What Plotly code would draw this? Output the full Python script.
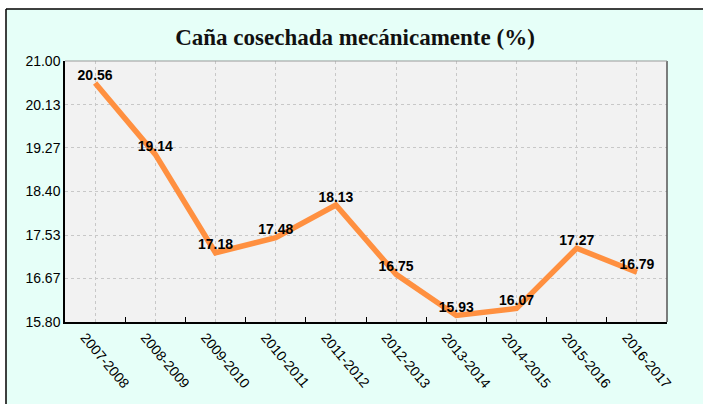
import plotly.graph_objects as go

categories = ["2007-2008", "2008-2009", "2009-2010", "2010-2011", "2011-2012",
              "2012-2013", "2013-2014", "2014-2015", "2015-2016", "2016-2017"]
values = [20.56, 19.14, 17.18, 17.48, 18.13, 16.75, 15.93, 16.07, 17.27, 16.79]
y_ticks = [15.80, 16.67, 17.53, 18.40, 19.27, 20.13, 21.00]
title_text = "Caña cosechada mecánicamente (%)"

W, H = 703, 404
ml, mr, mt, mb = 65, 36, 61, 82
pw, ph = W - ml - mr, H - mt - mb

def px_x(p):
    return (p - ml) / pw

def px_y(p):
    return (H - mb - p) / ph

fig = go.Figure()
fig.add_trace(go.Scatter(
    x=categories, y=values, mode="lines+text",
    line=dict(color="#FF9040", width=5.5),
    text=[f"<b>{v:.2f}</b>" for v in values], textposition="top center",
    textfont=dict(family="Arial, Liberation Sans", size=14, color="black"),
    hoverinfo="skip", showlegend=False, cliponaxis=False,
))
# invisible trace for boundary ticks axis
fig.add_trace(go.Scatter(
    x=categories, y=values, mode="lines", line=dict(width=0), opacity=0,
    xaxis="x2", hoverinfo="skip", showlegend=False,
))

fig.update_layout(
    width=W, height=H,
    margin=dict(l=ml, r=mr, t=mt, b=mb),
    paper_bgcolor="#E6FFF8",
    plot_bgcolor="#F2F2F2",
    title=dict(text=f"<b>{title_text}</b>",
               font=dict(family="Liberation Serif, Times New Roman, serif", size=23, color="#111"),
               x=px_x(355), xref="paper", y=1 - 37 / H, yanchor="middle", xanchor="center"),
    xaxis=dict(type="category", categoryarray=categories, range=[-0.5, 9.5],
               showgrid=True, gridcolor="#C8C8C8", griddash="dot", gridwidth=1,
               ticks="", tickangle=50, ticklabelshift=-10,
               tickfont=dict(family="Arial, Liberation Sans", size=14, color="black"),
               showline=True, linecolor="black", linewidth=1.5, zeroline=False),
    xaxis2=dict(type="category", categoryarray=categories, range=[-0.5, 9.5],
                overlaying="x", side="bottom", tickson="boundaries",
                ticks="inside", ticklen=5, tickcolor="black", tickwidth=1,
                showticklabels=False, showgrid=False, showline=False, zeroline=False),
    yaxis=dict(range=[15.8, 21.0], tickvals=y_ticks,
               ticktext=[f"{t:.2f}" for t in y_ticks],
               showgrid=True, gridcolor="#C8C8C8", griddash="dot", gridwidth=1,
               tickfont=dict(family="Arial, Liberation Sans", size=14, color="black"),
               ticks="", ticklen=0, showline=True, linecolor="black", linewidth=1.5,
               zeroline=False),
    shapes=[
        # white strips outside the outer frame
        dict(type="rect", xref="paper", yref="paper",
             x0=px_x(-5), x1=px_x(W + 5), y0=px_y(9), y1=px_y(-5),
             fillcolor="white", line=dict(width=0), layer="below"),
        dict(type="rect", xref="paper", yref="paper",
             x0=px_x(-5), x1=px_x(6), y0=px_y(H + 5), y1=px_y(-5),
             fillcolor="white", line=dict(width=0), layer="below"),
        # outer frame lines
        dict(type="line", xref="paper", yref="paper",
             x0=px_x(6), x1=px_x(W + 5), y0=px_y(9), y1=px_y(9),
             line=dict(color="black", width=1.5)),
        dict(type="line", xref="paper", yref="paper",
             x0=px_x(6), x1=px_x(6), y0=px_y(9), y1=px_y(H + 5),
             line=dict(color="black", width=1.5)),
        # plot frame right/top
        dict(type="line", xref="paper", yref="paper", x0=1, x1=1, y0=0, y1=1,
             line=dict(color="#555555", width=1.5)),
        dict(type="line", xref="paper", yref="paper", x0=0, x1=1, y0=1, y1=1,
             line=dict(color="#999999", width=1)),
    ],
)

fig.write_html("out.html", config={"displayModeBar": False},
               post_script="document.body.style.margin='0';")
